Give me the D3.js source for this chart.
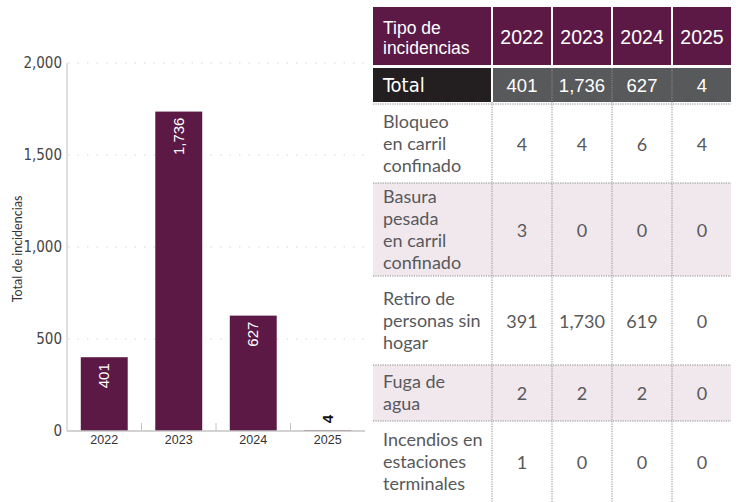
<!DOCTYPE html>
<html>
<head>
<meta charset="utf-8">
<script src="https://cdn.jsdelivr.net/npm/d3@7"></script>
<style>
  html, body { margin: 0; padding: 0; background: #fff; }
  svg { display: block; }
</style>
</head>
<body>
<svg id="chart" width="738" height="502"></svg>
<script>
// Incidencias por año
const years = ["2022", "2023", "2024", "2025"];
const totals = [401, 1736, 627, 4];
const yTicks = [0, 500, 1000, 1500, 2000];

// Tipos de incidencia (renglones en varias líneas) y sus valores por año
const typeLines = [
  ["Bloqueo", "en carril", "confinado"],
  ["Basura", "pesada", "en carril", "confinado"],
  ["Retiro de", "personas sin", "hogar"],
  ["Fuga de", "agua"],
  ["Incendios en", "estaciones", "terminales"]
];
const bloqueo = [4, 4, 6, 4];
const basura = [3, 0, 0, 0];
const retiro = [391, 1730, 619, 0];
const fuga = [2, 2, 2, 0];
const incendios = [1, 0, 0, 0];
const typeValues = [bloqueo, basura, retiro, fuga, incendios];

const PLUM = "#5c1946";
const fmt = d3.format(",");
const svg = d3.select("#chart");

// ---------- Bar chart ----------
const x = d3.scaleBand().domain(years).range([67, 365])
  .paddingInner(0.37).paddingOuter(0.185);
const y = d3.scaleLinear().domain([0, 2000]).range([431, 63]);
const narrow = "'Liberation Sans Narrow', 'DejaVu Sans Condensed', 'Liberation Sans', sans-serif";

const chart = svg.append("g");

// dotted gridlines
chart.append("g").selectAll("line")
  .data(yTicks.filter(d => d > 0))
  .join("line")
  .attr("x1", 68).attr("x2", 365)
  .attr("y1", d => y(d)).attr("y2", d => y(d))
  .attr("stroke", "#d6d6d6").attr("stroke-width", 1)
  .attr("stroke-dasharray", "1.5,8");

// y axis
const yAxis = chart.append("g")
  .attr("transform", "translate(67,0)")
  .call(d3.axisLeft(y).tickValues(yTicks).tickFormat(fmt).tickSize(0).tickPadding(5));
yAxis.select(".domain").attr("stroke", "#d4d4d4").attr("stroke-width", 1.5)
  .attr("d", `M0,${y(2000)}V${y(0)}`);
yAxis.selectAll("text")
  .attr("font-family", narrow).attr("font-size", 15).attr("fill", "#444");

// bars
chart.append("g").selectAll("rect")
  .data(years.map((yr, i) => ({ yr, v: totals[i] })))
  .join("rect")
  .attr("x", d => x(d.yr)).attr("width", x.bandwidth())
  .attr("y", d => y(d.v)).attr("height", d => y(0) - y(d.v))
  .attr("fill", PLUM);

// x axis with ticks between categories
const xAxis = chart.append("g").attr("transform", `translate(0,${y(0)})`);
xAxis.append("line")
  .attr("x1", 67).attr("x2", 365).attr("y1", 0).attr("y2", 0)
  .attr("stroke", "#c4c4c4").attr("stroke-width", 1.5);
xAxis.selectAll("line.tick")
  .data(years.slice(1))
  .join("line").attr("class", "tick")
  .attr("x1", d => x(d) - x.step() * x.paddingInner() / 2)
  .attr("x2", d => x(d) - x.step() * x.paddingInner() / 2)
  .attr("y1", -8).attr("y2", 0)
  .attr("stroke", "#c4c4c4").attr("stroke-width", 1);
xAxis.selectAll("text")
  .data(years)
  .join("text")
  .attr("x", d => x(d) + x.bandwidth() / 2).attr("y", 13)
  .attr("text-anchor", "middle")
  .attr("font-family", "'Liberation Sans', Arial, sans-serif").attr("font-size", 12.5)
  .attr("fill", "#333")
  .text(d => d);

// value labels, rotated
chart.append("g").selectAll("text")
  .data(years.map((yr, i) => ({ yr, v: totals[i] })))
  .join("text")
  .attr("transform", d => {
    const cx = x(d.yr) + x.bandwidth() / 2 + 5;
    const inside = y(0) - y(d.v) > 50;
    const ty = inside ? y(d.v) + 6 : y(d.v) - 7;
    return `translate(${cx},${ty}) rotate(-90)`;
  })
  .attr("text-anchor", d => (y(0) - y(d.v) > 50 ? "end" : "start"))
  .attr("font-family", "'Liberation Sans', Arial, sans-serif").attr("font-size", 15)
  .attr("font-weight", d => (y(0) - y(d.v) > 50 ? "normal" : "bold"))
  .attr("fill", d => (y(0) - y(d.v) > 50 ? "#fff" : "#111"))
  .text(d => fmt(d.v));

// y axis title
chart.append("text")
  .attr("transform", "translate(22,249) rotate(-90)")
  .attr("text-anchor", "middle")
  .attr("font-family", "Lato, 'Liberation Sans', sans-serif").attr("font-size", 12.5)
  .attr("fill", "#333")
  .text("Total de incidencias");

// ---------- Table ----------
const table = svg.append("g");
const col = d3.scaleBand().domain(years).range([492, 732]);
const labelX0 = 372, labelX1 = 492;
const sans = "'Liberation Sans', Arial, sans-serif";
const body = "Lato, 'Liberation Sans', sans-serif";

// header
table.append("rect").attr("x", labelX0 + 1).attr("y", 7)
  .attr("width", labelX1 - labelX0 - 2).attr("height", 58).attr("fill", PLUM);
table.selectAll("rect.hy").data(years).join("rect").attr("class", "hy")
  .attr("x", d => col(d) + 1).attr("y", 7)
  .attr("width", col.bandwidth() - 2).attr("height", 58).attr("fill", PLUM);
table.append("text")
  .attr("font-family", sans).attr("font-size", 17.5).attr("fill", "#fff")
  .selectAll("tspan").data(["Tipo de", "incidencias"]).join("tspan")
  .attr("x", 383).attr("y", (d, i) => 34 + i * 19.5).text(d => d);
table.selectAll("text.hy").data(years).join("text").attr("class", "hy")
  .attr("x", d => col(d) + col.bandwidth() / 2).attr("y", 44)
  .attr("text-anchor", "middle")
  .attr("font-family", sans).attr("font-size", 19.5).attr("fill", "#fff")
  .text(d => d);

// total row
const totTop = 68, totH = 34;
table.append("rect").attr("x", labelX0 + 1).attr("y", totTop)
  .attr("width", labelX1 - labelX0 - 2).attr("height", totH).attr("fill", "#231f20");
table.append("rect").attr("x", col(years[0]) + 1).attr("y", totTop)
  .attr("width", col.range()[1] - col(years[0]) - 2).attr("height", totH).attr("fill", "#58595b");
table.selectAll("line.tsep").data(years.slice(1)).join("line").attr("class", "tsep")
  .attr("x1", d => col(d)).attr("x2", d => col(d))
  .attr("y1", totTop).attr("y2", totTop + totH)
  .attr("stroke", "#8e8f91").attr("stroke-width", 1).attr("stroke-dasharray", "1.2,1.2");
table.append("text").attr("x", 383).attr("y", totTop + 24)
  .attr("font-family", narrow).attr("font-size", 20).attr("fill", "#fff").text("Total");
table.selectAll("text.tv").data(totals).join("text").attr("class", "tv")
  .attr("x", (d, i) => col(years[i]) + col.bandwidth() / 2).attr("y", totTop + 24)
  .attr("text-anchor", "middle")
  .attr("font-family", sans).attr("font-size", 18.5).attr("fill", "#fff")
  .text(d => fmt(d));

// body rows
const rowEdges = [104, 183, 276, 365, 421, 502];
const lineH = 22;
const rows = table.append("g");
typeLines.forEach((lines, r) => {
  const top = rowEdges[r], bottom = rowEdges[r + 1];
  const mid = (top + bottom) / 2;
  if (r % 2 === 1) {
    rows.append("rect").attr("x", labelX0 + 1).attr("y", top)
      .attr("width", col.range()[1] - labelX0 - 2).attr("height", bottom - top)
      .attr("fill", "#f0e8ed");
  }
  const first = mid - (lines.length - 1) * lineH / 2 + 6;
  rows.append("text").attr("font-family", body).attr("font-size", 18).attr("fill", "#58595b")
    .selectAll("tspan").data(lines).join("tspan")
    .attr("x", 383).attr("y", (d, i) => first + i * lineH).text(d => d);
  rows.selectAll(null).data(typeValues[r]).join("text")
    .attr("x", (d, i) => col(years[i]) + col.bandwidth() / 2).attr("y", mid + 7)
    .attr("text-anchor", "middle")
    .attr("font-family", body).attr("font-size", 18).attr("fill", "#58595b")
    .text(d => fmt(d));
});

// dotted grid of the table body
const dot = "1.2,1.2";
table.selectAll("line.hsep").data(rowEdges.slice(0, -1)).join("line").attr("class", "hsep")
  .attr("x1", labelX0 + 1).attr("x2", col.range()[1] - 1)
  .attr("y1", d => d).attr("y2", d => d)
  .attr("stroke", "#8a8a8a").attr("stroke-width", 1).attr("stroke-dasharray", dot);
table.selectAll("line.vsep").data(years).join("line").attr("class", "vsep")
  .attr("x1", d => col(d)).attr("x2", d => col(d))
  .attr("y1", totTop + totH).attr("y2", 502)
  .attr("stroke", "#8a8a8a").attr("stroke-width", 1).attr("stroke-dasharray", dot);
</script>
</body>
</html>
